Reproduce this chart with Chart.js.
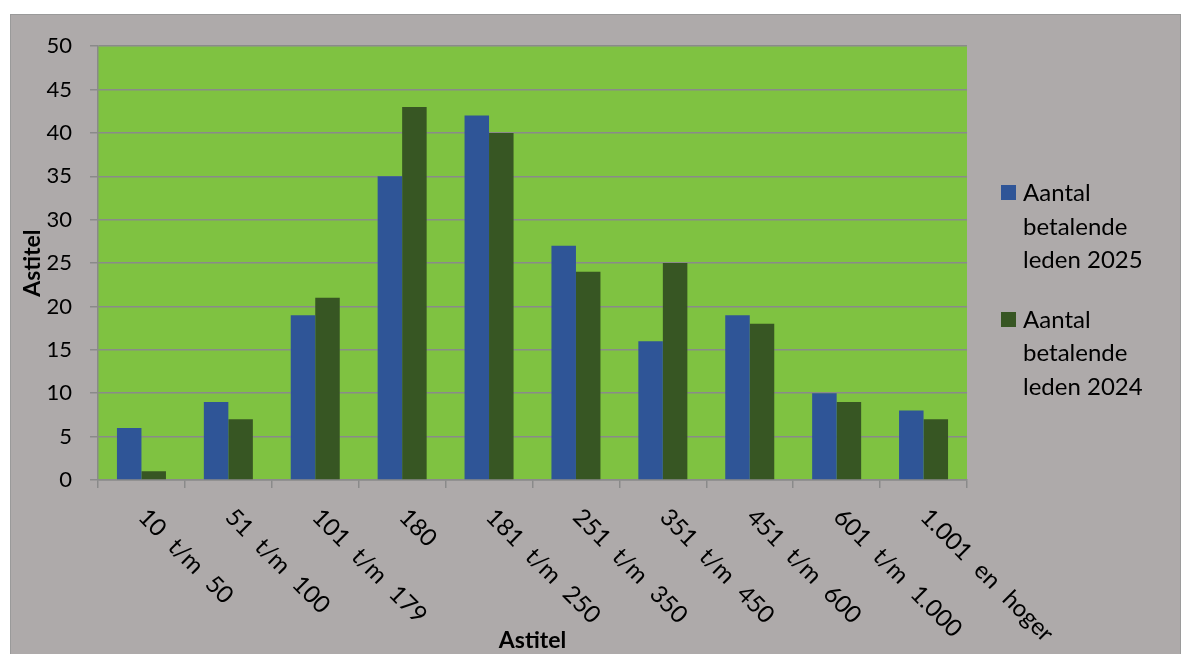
<!DOCTYPE html>
<html>
<head>
<meta charset="utf-8">
<script src="https://cdn.jsdelivr.net/npm/chart.js@4.4.1/dist/chart.umd.min.js"></script>
<style>
  html, body { margin: 0; padding: 0; background: #ffffff; overflow: hidden; }
  #box {
    position: absolute; left: 10px; top: 14px; width: 1171px; height: 660px;
    box-sizing: border-box; border: 1px solid #9a9a9a; background: #aeaaaa;
  }
  #chart { position: absolute; left: 0; top: 0; }
  #legend {
    position: absolute; left: 990px; top: 160px;
    font-family: Lato, sans-serif; font-size: 24px; color: #000;
  }
  .item { position: relative; padding-left: 22px; line-height: 33.5px; }
  .item + .item { margin-top: 26px; }
  .swatch { position: absolute; left: 0; top: 10px; width: 15px; height: 15px; }
</style>
</head>
<body>
<div id="box">
  <canvas id="chart" width="1170" height="639"></canvas>
  <div id="legend"></div>
</div>
<script>
// categories and series
const categories = ['10 t/m 50', '51 t/m 100', '101 t/m 179', '180', '181 t/m 250',
  '251 t/m 350', '351 t/m 450', '451 t/m 600', '601 t/m 1.000', '1.001 en hoger'];
const leden2025 = [6, 9, 19, 35, 42, 27, 16, 19, 10, 8];
const leden2024 = [1, 7, 21, 43, 40, 24, 25, 18, 9, 7];
const seriesNames = ['Aantal betalende leden 2025', 'Aantal betalende leden 2024'];
const seriesColors = ['#2f5597', '#375623'];
const axisTitle = 'Astitel';

const FONT = 'Lato, sans-serif';

// green plot area behind the grid
const plotFill = {
  id: 'plotFill',
  beforeDraw(chart) {
    const a = chart.chartArea;
    const ctx = chart.ctx;
    ctx.save();
    ctx.fillStyle = '#7fc241';
    ctx.fillRect(a.left, a.top, a.right - a.left, a.bottom - a.top);
    ctx.restore();
  }
};

// category labels slanted down to the right, starting at the tick
const slantLabels = {
  id: 'slantLabels',
  afterDraw(chart) {
    const x = chart.scales.x;
    const ctx = chart.ctx;
    ctx.save();
    ctx.font = '24px ' + FONT;
    ctx.fillStyle = '#000';
    ctx.textAlign = 'left';
    ctx.textBaseline = 'middle';
    if ('wordSpacing' in ctx) ctx.wordSpacing = '8px';
    categories.forEach((label, i) => {
      ctx.save();
      ctx.translate(x.getPixelForValue(i) + 1, chart.chartArea.bottom + 33);
      ctx.rotate(Math.PI / 4);
      ctx.fillText(label, 0, 0);
      ctx.restore();
    });
    ctx.restore();
  }
};

new Chart(document.getElementById('chart').getContext('2d'), {
  type: 'bar',
  data: {
    labels: categories,
    datasets: [{
      label: seriesNames[0],
      data: leden2025,
      backgroundColor: seriesColors[0],
      categoryPercentage: 0.564,
      barPercentage: 1
    }, {
      label: seriesNames[1],
      data: leden2024,
      backgroundColor: seriesColors[1],
      categoryPercentage: 0.564,
      barPercentage: 1
    }]
  },
  options: {
    responsive: false,
    animation: false,
    layout: { padding: { left: 0, top: 29, right: 214, bottom: 0 } },
    plugins: {
      legend: { display: false },
      tooltip: { enabled: false }
    },
    scales: {
      x: {
        afterFit(scale) { scale.height = 174; },
        grid: {
          offset: true,
          drawOnChartArea: false,
          drawTicks: true,
          tickLength: 8,
          color: '#8a8a8a',
          lineWidth: 1.5
        },
        border: { color: '#8a8a8a', width: 1.5 },
        ticks: { display: false },
        title: {
          display: true,
          text: axisTitle,
          color: '#000',
          font: { family: FONT, size: 23, weight: 'bold' },
          padding: { top: 0, bottom: 0 }
        }
      },
      y: {
        min: 0,
        max: 50,
        afterFit(scale) { scale.width = 87; },
        grid: {
          color: '#8a8a8a',
          lineWidth: 1.5,
          drawTicks: true,
          tickLength: 8
        },
        border: { color: '#8a8a8a', width: 1.5 },
        ticks: {
          stepSize: 5,
          padding: 18,
          color: '#000',
          font: { family: FONT, size: 22 }
        },
        title: {
          display: true,
          text: axisTitle,
          color: '#000',
          font: { family: FONT, size: 23, weight: 'bold' },
          padding: { top: 8, bottom: 0 }
        }
      }
    }
  },
  plugins: [plotFill, slantLabels]
});

// legend as real text, wrapped like the original
const legend = document.getElementById('legend');
const wrapped = [['Aantal', 'betalende', 'leden 2025'], ['Aantal', 'betalende', 'leden 2024']];
wrapped.forEach((lines, i) => {
  const item = document.createElement('div');
  item.className = 'item';
  const sw = document.createElement('span');
  sw.className = 'swatch';
  sw.style.background = seriesColors[i];
  item.appendChild(sw);
  item.insertAdjacentHTML('beforeend', lines.join('<br>'));
  legend.appendChild(item);
});
</script>
</body>
</html>
